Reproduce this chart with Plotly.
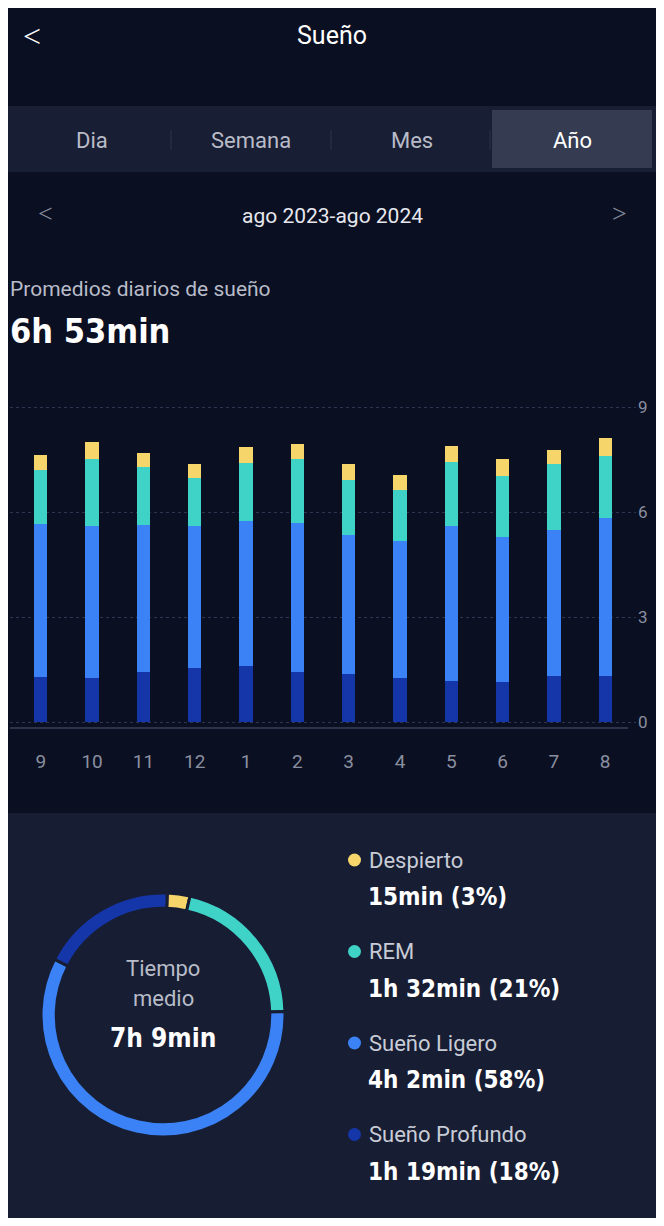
import plotly.graph_objects as go

months = ["9","10","11","12","1","2","3","4","5","6","7","8"]
deep = [1.29,1.26,1.43,1.54,1.60,1.43,1.37,1.26,1.17,1.14,1.31,1.31]
light = [4.37,4.34,4.20,4.06,4.14,4.26,3.97,3.91,4.43,4.15,4.18,4.52]
rem = [1.54,1.91,1.66,1.37,1.66,1.82,1.57,1.46,1.83,1.74,1.88,1.77]
awake = [0.43,0.49,0.40,0.40,0.46,0.43,0.46,0.43,0.46,0.48,0.40,0.51]
y_ticks = [0,3,6,9]

legend_names = ["Despierto","REM","Sueño Ligero","Sueño Profundo"]
legend_vals = ["15min (3%)","1h 32min (21%)","4h 2min (58%)","1h 19min (18%)"]
pie_vals = [3,21,58,18]
colors = ["#f6d66b","#3fd3c8","#3b82f6","#1436a8"]

OFF = 8
W, H = 664 - 2 * OFF, 1226 - 2 * OFF
BG = "#0a0f22"
def px(x): return (x - OFF) / W
def py(y): return 1 - (y - OFF) / H

COND = "Liberation Sans Narrow, DejaVu Sans Condensed"

fig = go.Figure()
idx = list(range(len(months)))
for vals, c in zip([deep, light, rem, awake], [colors[3], colors[2], colors[1], colors[0]]):
    fig.add_bar(x=idx, y=vals, marker=dict(color=c, line=dict(width=0)), width=0.26,
                showlegend=False, hoverinfo="skip")

fig.add_trace(go.Pie(values=pie_vals, marker=dict(colors=colors, line=dict(color="#171d33", width=3)),
                     hole=0.875, sort=False, direction="clockwise", rotation=2,
                     textinfo="none", showlegend=False,
                     domain=dict(x=[px(41), px(285)], y=[py(1137), py(893)])))

ann = []
def t(x, y, s, size, color="#ffffff", xa="left", fam="Roboto", **kw):
    ann.append(dict(x=px(x), y=py(y), xref="paper", yref="paper", text=s, showarrow=False,
                    xanchor=xa, yanchor="middle", font=dict(size=size, color=color, family=fam), **kw))

shapes = []
def rect(x0, y0, x1, y1, color):
    shapes.append(dict(type="rect", xref="paper", yref="paper", x0=px(x0), x1=px(x1), y0=py(y1), y1=py(y0),
                       fillcolor=color, line=dict(width=0), layer="below"))

# header
t(332, 36, "Sueño", 25, xa="center")
t(32, 36, "<", 32, xa="center", fam="DejaVu Sans ExtraLight")
rect(8, 106, 656, 172, "#181e33")
rect(492, 110, 652, 168, "#353c51")
for x, s in zip([92, 251, 412, 572], ["Dia","Semana","Mes","Año"]):
    t(x, 140, s, 22, "#ffffff" if s == "Año" else "#b8bcc8", xa="center")
for x in [171, 331, 490]:
    shapes.append(dict(type="line", xref="paper", yref="paper", x0=px(x), x1=px(x), y0=py(130), y1=py(150),
                       line=dict(color="#2c3348", width=1)))
t(332, 216, "ago 2023-ago 2024", 21, "#e6e8ee", xa="center")
t(45, 214, "<", 26, "#8a8fa0", xa="center", fam="DejaVu Sans ExtraLight")
t(619, 214, ">", 26, "#8a8fa0", xa="center", fam="DejaVu Sans ExtraLight")
t(8, 289, "Promedios diarios de sueño", 21, "#b8bcc8")
t(8, 331, "<b>6h 53min</b>", 34, fam=COND)

# y tick labels on right
for v in y_ticks:
    ann.append(dict(x=px(636), y=v, xref="paper", yref="y", text=str(v), showarrow=False, xanchor="left",
                    yanchor="middle", font=dict(size=17, color="#8a8fa0", family="Roboto")))
shapes.append(dict(type="line", xref="paper", yref="paper", x0=px(10), x1=px(628), y0=py(728), y1=py(728),
                   line=dict(color="#3a4158", width=1.5)))

# bottom panel
rect(8, 813, 656, 1218, "#171d33")
t(163, 968, "Tiempo", 22, "#b8bcc8", xa="center")
t(163, 998, "medio", 22, "#b8bcc8", xa="center")
t(163, 1038, "<b>7h 9min</b>", 26, fam=COND, xa="center")
for i, (n, v) in enumerate(zip(legend_names, legend_vals)):
    y0 = 860 + i * 91.5
    shapes.append(dict(type="circle", xref="paper", yref="paper", x0=px(348), x1=px(361),
                       y0=py(y0 + 6.5), y1=py(y0 - 6.5), fillcolor=colors[i], line=dict(width=0)))
    t(367, y0, n, 22, "#c8ccd6")
    t(366, y0 + 37, "<b>" + v + "</b>", 24, fam=COND)

fig.update_layout(
    width=W, height=H, margin=dict(l=0, r=0, t=0, b=0),
    paper_bgcolor=BG, plot_bgcolor="rgba(0,0,0,0)", barmode="stack",
    annotations=ann, shapes=shapes,
    xaxis=dict(domain=[px(10), px(636)], range=[-0.6, 11.6], tickmode="array", tickvals=idx,
               ticktext=months, tickfont=dict(size=19, color="#8a8fa0", family="Roboto"),
               showgrid=False, zeroline=False, showline=False, ticks="", ticklabelstandoff=20),
    yaxis=dict(domain=[py(728), py(400)], range=[-0.17, 9.2], tickvals=y_ticks, showticklabels=False,
               showgrid=True, gridcolor="#2e3550", griddash="dot", gridwidth=1, zeroline=False),
)
fig.write_html("out.html")
